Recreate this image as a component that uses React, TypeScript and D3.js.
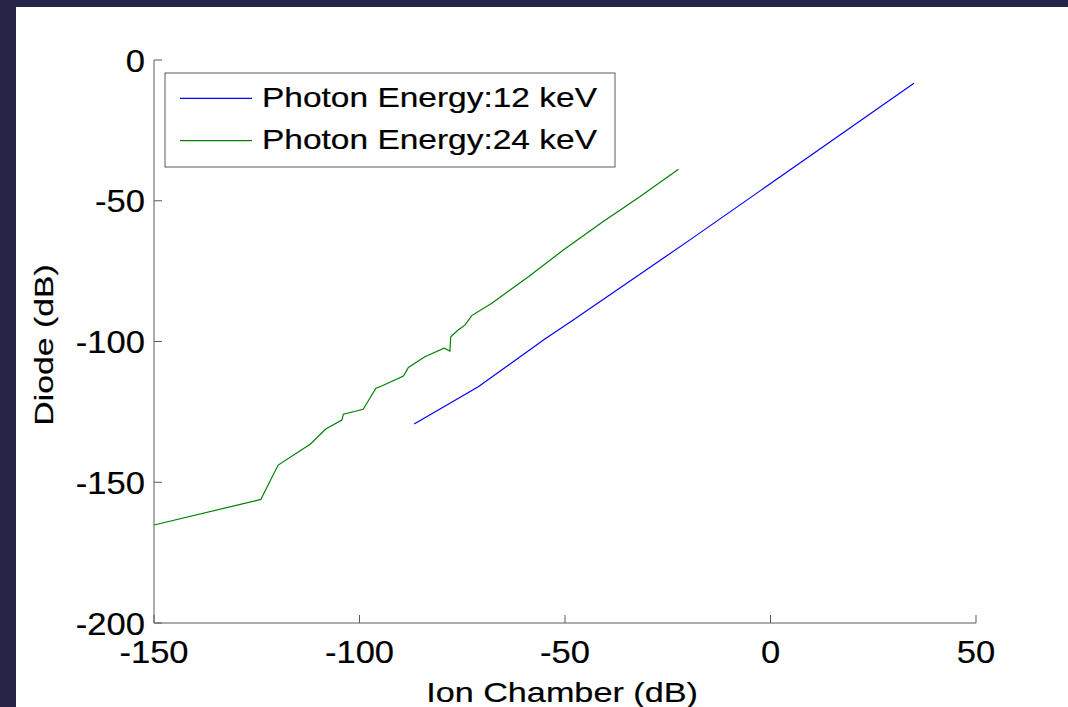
import React from "react";
import * as d3 from "d3";

const xTicks = [-150, -100, -50, 0, 50];
const yTicks = [-200, -150, -100, -50, 0];

const blueX = [-86.7, -71.1, -54.9, -48.0, -19.6, 34.9];
const blueY = [-129.3, -116.1, -99.1, -92.4, -63.9, -8.3];

const greenX = [-150, -124.0, -119.8, -112.0, -108.2, -104.3, -103.9, -99.1, -98.0, -96.0, -94.6, -89.3, -88.1, -84.1, -79.4, -78.0, -77.8, -76.0, -74.3, -72.7, -67.8, -58.9, -50.4, -40.7, -31.8, -22.4];
const greenY = [-165.2, -156.1, -143.9, -136.5, -131.1, -127.9, -125.8, -124.1, -121.4, -116.6, -115.8, -112.3, -109.2, -105.4, -102.4, -103.4, -98.3, -95.9, -94.1, -90.8, -86.4, -77.0, -67.5, -57.4, -48.6, -38.8];

const legendLabels = ["Photon Energy:12 keV", "Photon Energy:24 keV"];
const colors = ["#0000ff", "#008000"];

const W = 1068;
const H = 707;
const FONT = "'Liberation Sans', Arial, sans-serif";

export default function App() {
  const x = d3.scaleLinear().domain([-150, 50]).range([154, 976]);
  const y = d3.scaleLinear().domain([-200, 0]).range([623, 60]);
  const line = d3
    .line<[number, number]>()
    .x((d) => x(d[0]))
    .y((d) => y(d[1]));
  const blue = blueX.map((v, i) => [v, blueY[i]] as [number, number]);
  const green = greenX.map((v, i) => [v, greenY[i]] as [number, number]);
  const axisColor = "#5a5a5a";
  const textProps = { fill: "#000", stroke: "#000", strokeWidth: 0.2 };

  return (
    <svg
      width={W}
      height={H}
      style={{ position: "absolute", left: 0, top: 0 }}
      fontFamily={FONT}
    >
      <rect x={0} y={0} width={W} height={H} fill="#262548" />
      <rect x={16} y={7} width={W - 16} height={H - 7} fill="#ffffff" />

      {/* data lines */}
      <path d={line(green) || ""} fill="none" stroke={colors[1]} strokeWidth={1.2} />
      <path d={line(blue) || ""} fill="none" stroke={colors[0]} strokeWidth={1.2} />

      {/* axes */}
      <line x1={x(-150)} x2={x(-150)} y1={y(0)} y2={y(-200)} stroke={axisColor} strokeWidth={1} />
      <line x1={x(-150)} x2={x(50)} y1={y(-200)} y2={y(-200)} stroke={axisColor} strokeWidth={1} />
      {yTicks.map((t) => (
        <g key={"y" + t}>
          <line x1={x(-150)} x2={x(-150) + 8} y1={y(t)} y2={y(t)} stroke={axisColor} strokeWidth={1} />
          <text
            transform={`translate(145,${y(t) + 11.5}) scale(1.08,1)`}
            textAnchor="end"
            fontSize={32}
            {...textProps}
          >
            {t}
          </text>
        </g>
      ))}
      {xTicks.map((t) => (
        <g key={"x" + t}>
          <line x1={x(t)} x2={x(t)} y1={y(-200)} y2={y(-200) - 8} stroke={axisColor} strokeWidth={1} />
          <text
            transform={`translate(${x(t)},663) scale(1.08,1)`}
            textAnchor="middle"
            fontSize={32}
            {...textProps}
          >
            {t}
          </text>
        </g>
      ))}

      {/* axis labels */}
      <text
        transform={`translate(562,702) scale(1.2,1)`}
        textAnchor="middle"
        fontSize={28.5}
        {...textProps}
      >
        Ion Chamber (dB)
      </text>
      <text
        transform={`translate(53,345) rotate(-90) scale(1.3,1)`}
        textAnchor="middle"
        fontSize={26}
        {...textProps}
      >
        Diode (dB)
      </text>

      {/* legend */}
      <rect x={165} y={73} width={450} height={94} fill="#fff" stroke={axisColor} strokeWidth={1} />
      {legendLabels.map((lab, i) => (
        <g key={lab}>
          <line x1={180} x2={252} y1={98.3 + i * 42.4} y2={98.3 + i * 42.4} stroke={colors[i]} strokeWidth={1.2} />
          <text
            transform={`translate(262,${106.7 + i * 42.4}) scale(1.24,1)`}
            fontSize={27}
            {...textProps}
          >
            {lab}
          </text>
        </g>
      ))}
    </svg>
  );
}
